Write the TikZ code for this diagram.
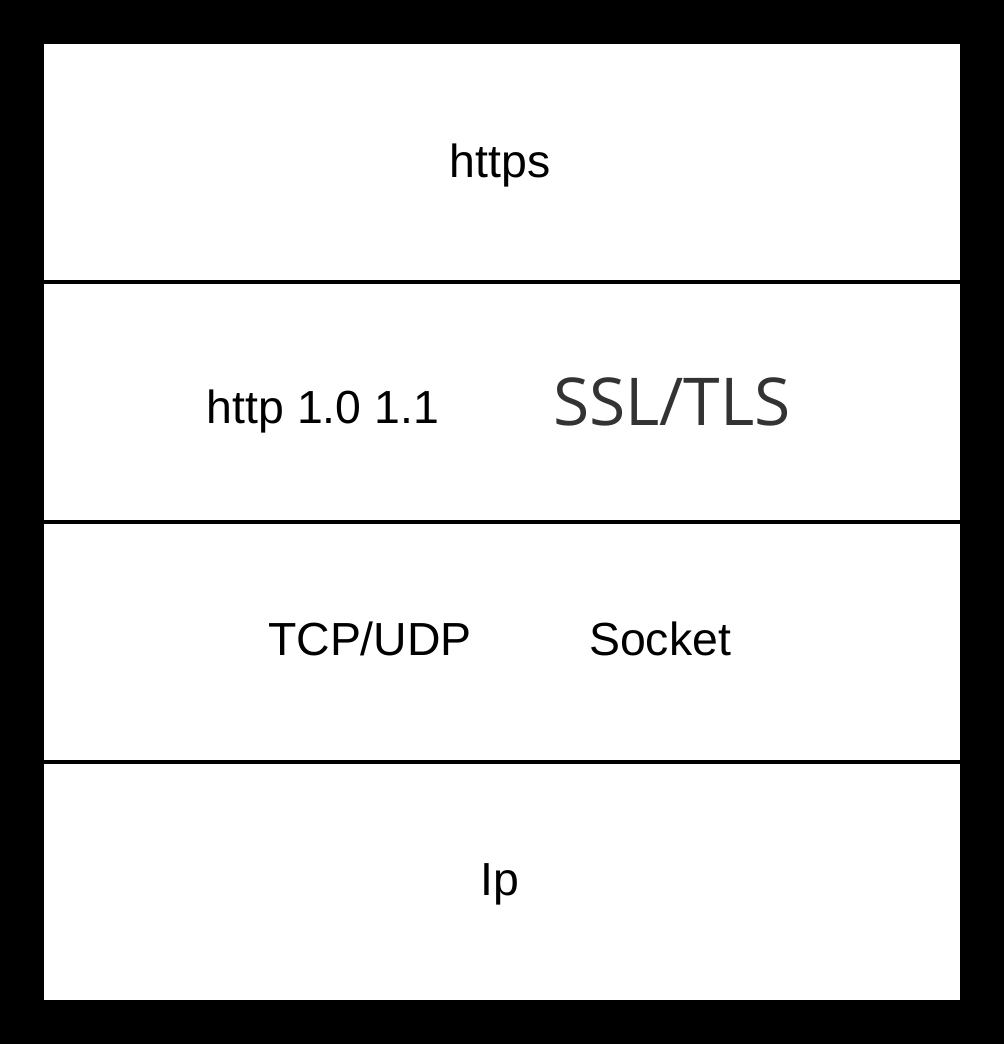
\documentclass[tikz,border=0pt]{standalone}
\usepackage{fontspec}
\setmainfont{Liberation Sans}
\newfontfamily\tlsfont{Open Sans}
\definecolor{tlsgray}{HTML}{333333}

\begin{document}
\begin{tikzpicture}[x=0.5pt, y=-0.5pt, line width=2pt,
    label/.style={anchor=base, inner sep=0pt, font=\fontsize{23.2}{27}\selectfont}]
  \fill[black] (0,0) rectangle (1004,1044);
  \foreach \top/\bot in {42/282, 282/522, 522/762, 762/1002} {
    \draw[fill=white] (42,\top) rectangle (962,\bot);
  }
  \node[label] (https) at (500,177) {https};
  \node[label] (http) at (323,423) {http 1.0 1.1};
  \node[label, font=\tlsfont\fontsize{33}{40}\selectfont, text=tlsgray] (ssl) at (672,425) {SSL/TLS};
  \node[label] (tcp) at (370,655) {TCP/UDP};
  \node[label] (socket) at (660,655) {Socket};
  \node[label] (ip) at (500,895) {Ip};
\end{tikzpicture}
\end{document}
